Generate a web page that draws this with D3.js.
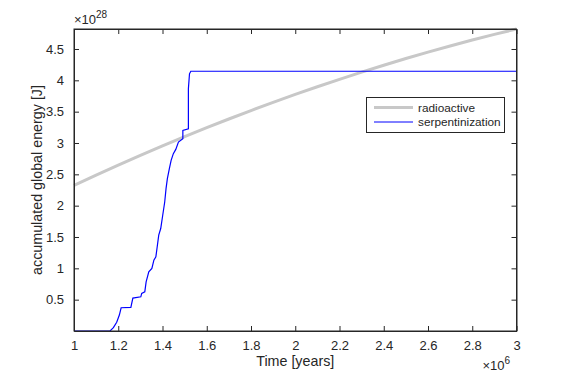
<!DOCTYPE html>
<html><head><meta charset="utf-8">
<script src="https://cdn.jsdelivr.net/npm/d3@7"></script>
<style>body{margin:0;background:#fff}svg{display:block}text{font-family:"Liberation Sans",Arial,sans-serif;fill:#262626}</style>
</head><body>
<script>
// Time in units of 1e6 years, energy in units of 1e28 J
const radioTime = [1.0,1.1,1.2,1.3,1.4,1.5,1.6,1.7,1.8,1.9,2.0,2.1,2.2,2.3,2.4,2.5,2.6,2.7,2.8,2.9,3.0];
const radioEnergy = [2.325,2.488,2.648,2.803,2.954,3.101,3.244,3.383,3.518,3.648,3.775,3.898,4.016,4.131,4.241,4.348,4.450,4.548,4.643,4.733,4.819];
const serpTime = [1.0,1.163,1.178,1.193,1.205,1.213,1.257,1.266,1.302,1.306,1.320,1.326,1.338,1.352,1.361,1.370,1.377,1.383,1.392,1.401,1.410,1.416,1.422,1.431,1.439,1.449,1.460,1.472,1.492,1.492,1.517,1.517,1.522,1.528,3.0];
const serpEnergy = [0,0,0.053,0.139,0.255,0.371,0.377,0.525,0.546,0.600,0.626,0.785,0.944,0.998,1.131,1.183,1.369,1.529,1.635,1.847,2.059,2.272,2.432,2.591,2.723,2.830,2.898,3.014,3.068,3.201,3.228,3.865,4.104,4.145,4.145];
const xTicks = [1,1.2,1.4,1.6,1.8,2,2.2,2.4,2.6,2.8,3];
const yTicks = [0.5,1,1.5,2,2.5,3,3.5,4,4.5];
const seriesNames = ["radioactive","serpentinization"];

const W=571,H=373;
const svg=d3.select("body").append("svg").attr("width",W).attr("height",H);
const L=74,R=516.5,T=29,B=331;
const x=d3.scaleLinear().domain([1,3]).range([L,R]);
const y=d3.scaleLinear().domain([0,4.819]).range([B,T]);
const ink="#262626";

const g=svg.append("g");
// series
const line=d3.line().x((d,i)=>x(d[0])).y(d=>y(d[1]));
g.append("path").datum(radioTime.map((t,i)=>[t,radioEnergy[i]]))
 .attr("d",line).attr("fill","none").attr("stroke","#c8c8c8").attr("stroke-width",3);
g.append("path").datum(serpTime.map((t,i)=>[t,serpEnergy[i]]))
 .attr("d",line).attr("fill","none").attr("stroke","#0000ff").attr("stroke-width",1.2);

// axes (MATLAB style: ticks inside, box)
const tl=5;
const fmt=d=>String(d);
const axB=d3.axisBottom(x).tickValues(xTicks).tickSizeInner(-tl).tickSizeOuter(0).tickPadding(10).tickFormat(fmt);
const axT=d3.axisTop(x).tickValues(xTicks).tickSizeInner(-tl).tickSizeOuter(0).tickFormat("");
const axL=d3.axisLeft(y).tickValues(yTicks).tickSizeInner(-tl).tickSizeOuter(0).tickPadding(10).tickFormat(fmt);
const axR=d3.axisRight(y).tickValues(yTicks).tickSizeInner(-tl).tickSizeOuter(0).tickFormat("");
function style(sel){sel.selectAll("path").attr("stroke",ink);sel.selectAll("line").attr("stroke",ink);
 sel.selectAll("text").attr("font-size",13).attr("fill",ink).style("font-family","'Liberation Sans',Arial,sans-serif");}
svg.append("g").attr("transform",`translate(0,${B})`).call(axB).call(style);
svg.append("g").attr("transform",`translate(0,${T})`).call(axT).call(style);
svg.append("g").attr("transform",`translate(${L},0)`).call(axL).call(style);
svg.append("g").attr("transform",`translate(${R},0)`).call(axR).call(style);
svg.append("rect").attr("x",L).attr("y",T).attr("width",R-L).attr("height",B-T).attr("fill","none").attr("stroke",ink).attr("stroke-width",1);

// exponents
const e1=svg.append("text").attr("x",L).attr("y",24).attr("font-size",13);
e1.append("tspan").text("\u00d710");
e1.append("tspan").attr("dy",-6).attr("font-size",10).text("28");
const e2=svg.append("text").attr("x",510).attr("y",370).attr("font-size",13).attr("text-anchor","end");
e2.append("tspan").text("\u00d710");
e2.append("tspan").attr("dy",-6).attr("font-size",10).text("6");

// axis labels
svg.append("text").attr("x",(L+R)/2).attr("y",366).attr("text-anchor","middle").attr("font-size",14.3).text("Time [years]");
svg.append("text").attr("transform",`translate(42,${(T+B)/2}) rotate(-90)`).attr("text-anchor","middle").attr("font-size",14.3).text("accumulated global energy [J]");

// legend
const lg=svg.append("g");
lg.append("rect").attr("x",366.5).attr("y",97.5).attr("width",138).attr("height",35).attr("fill","#fff").attr("stroke",ink);
const colors=["#c8c8c8","#0000ff"],widths=[3,1];
seriesNames.forEach((n,i)=>{
 const yy=107.5+i*14.5;
 lg.append("line").attr("x1",374).attr("x2",413).attr("y1",yy).attr("y2",yy).attr("stroke",colors[i]).attr("stroke-width",widths[i]);
 lg.append("text").attr("x",418).attr("y",yy+4).attr("font-size",11.8).text(n);
});
</script>
</body></html>
